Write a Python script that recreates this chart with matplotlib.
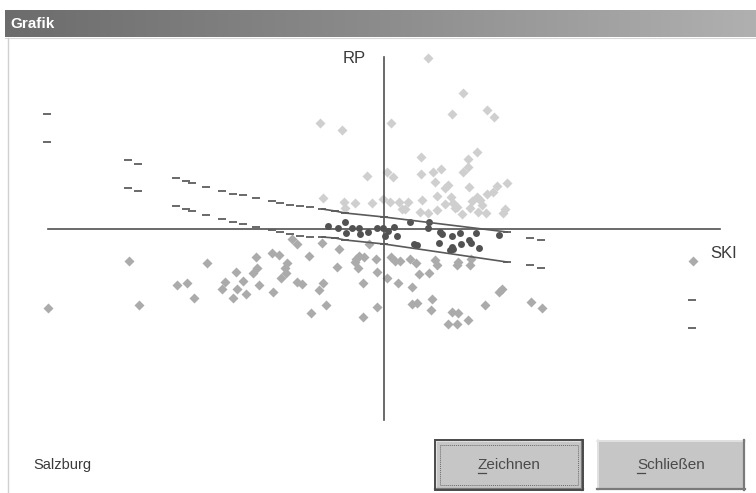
import matplotlib
matplotlib.use("Agg")
import matplotlib.pyplot as plt
from matplotlib.patches import Rectangle
import numpy as np

plt.rcParams['font.family'] = ['Liberation Sans', 'DejaVu Sans']

# ---------------- data (SKI on x, RP on y) ----------------
upper_x = [0.44, 0.79, 0.68, 1.03, 1.10, 0.07, -0.64, -0.42, 0.37, 0.93, 0.84, -0.17, 0.09, 0.03,
           0.37, 0.49, 0.57, 0.79, 0.84, 0.51, 0.64, 0.61, 0.85, 1.13, 1.23, 1.09, 1.03, 0.53,
           0.67, 0.93, 0.96, 0.88, -0.61, -0.40, -0.29, -0.12, -0.01, 0.06, 0.15, 0.24, 0.38,
           0.61, 0.69, 0.73, 0.18, 0.21, 0.36, 0.53, 0.71, 0.98, 1.02, 1.21, 1.19, 0.44, 0.78,
           0.86, 0.94, -0.39]
upper_y = [1.71, 1.36, 1.15, 1.19, 1.12, 1.06, 1.06, 0.99, 0.72, 0.77, 0.70, 0.53, 0.52, 0.57,
           0.55, 0.57, 0.60, 0.57, 0.62, 0.47, 0.44, 0.41, 0.42, 0.43, 0.46, 0.37, 0.35, 0.33,
           0.32, 0.32, 0.29, 0.28, 0.31, 0.27, 0.26, 0.26, 0.30, 0.27, 0.27, 0.27, 0.29,
           0.25, 0.26, 0.22, 0.20, 0.20, 0.17, 0.19, 0.21, 0.24, 0.16, 0.20, 0.16, 0.16, 0.15,
           0.21, 0.17, 0.21]

lower_x = [-3.36, -2.55, -2.45, -1.77, -2.07, -1.97, -1.90, -1.48, -1.59, -1.62, -1.47, -1.41,
           -1.38, -1.51, -1.31, -1.28, -1.27, -1.25, -1.12, -1.05, -1.11, -0.99, -0.97, -0.98,
           -1.03, -0.87, -0.82, -0.75, -0.92, -0.87, -0.73, -0.65, -0.62, -0.61, -0.58, -0.47,
           -0.45, -0.28, -0.26, -0.21, -0.20, -0.08, -0.07, -0.07, -0.21, -0.15, -0.25, -0.29,
           0.03, 0.07, 0.11, 0.16, 0.26, 0.32, 0.14, 0.28, 0.35, 0.45, 0.51, 0.53, 0.74, 0.73,
           0.86, 0.87, 0.28, 0.33, 0.48, 0.47, 0.68, 0.74, 0.64, 0.73, 0.84, 1.01, 1.15, 1.18,
           1.47, 1.58, 3.09]
lower_y = [-0.79, -0.32, -0.76, -0.34, -0.56, -0.54, -0.69, -0.43, -0.53, -0.60, -0.60, -0.52,
           -0.65, -0.69, -0.44, -0.28, -0.39, -0.56, -0.24, -0.26, -0.63, -0.39, -0.34, -0.44,
           -0.49, -0.53, -0.55, -0.27, -0.10, -0.15, -0.84, -0.61, -0.14, -0.54, -0.76, -0.38,
           -0.20, -0.30, -0.39, -0.54, -0.28, -0.30, -0.43, -0.78, -0.88, -0.15, -0.27, -0.33,
           -0.49, -0.28, -0.32, -0.32, -0.30, -0.34, -0.54, -0.58, -0.45, -0.44, -0.31, -0.36,
           -0.33, -0.36, -0.36, -0.30, -0.75, -0.74, -0.70, -0.81, -0.83, -0.84, -0.95, -0.95,
           -0.91, -0.76, -0.63, -0.60, -0.73, -0.79, -0.32]

dark_x = [-0.56, -0.46, -0.39, -0.38, -0.32, -0.25, -0.24, -0.16, -0.07, -0.01, 0.01, 0.04, 0.10,
          0.13, 0.26, 0.30, 0.33, 0.45, 0.44, 0.56, 0.58, 0.55, 0.68, 0.76, 0.77, 0.68, 0.66,
          0.85, 0.87, 0.92, 0.95, 1.15, 0.69]
dark_y = [0.03, 0.01, 0.07, -0.04, 0.01, 0.01, -0.05, -0.03, 0.01, 0.01, -0.07, -0.02, 0.02,
          -0.07, 0.07, -0.15, -0.16, 0.07, 0.01, -0.03, -0.05, -0.14, -0.07, -0.04, -0.15, -0.18,
          -0.21, -0.11, -0.14, -0.04, -0.19, -0.06, -0.20]

band_x = [-3.37, -2.56, -2.46, -2.08, -1.98, -1.92, -1.78, -1.62, -1.51, -1.41, -1.28, -1.12,
          -1.04, -0.94, -0.84, -0.74, -0.62, -0.49, -0.39, 0.00, 1.23, 1.46, 1.57, 3.08]
band_hi = [1.15, 0.69, 0.65, 0.51, 0.48, 0.46, 0.42, 0.38, 0.35, 0.34, 0.31, 0.28,
           0.26, 0.24, 0.23, 0.22, 0.20, 0.18, 0.16, 0.12, -0.03, -0.09, -0.11, -0.71]
band_lo = [0.87, 0.41, 0.38, 0.23, 0.20, 0.18, 0.14, 0.10, 0.07, 0.05, 0.02, -0.01,
           -0.03, -0.05, -0.07, -0.08, -0.08, -0.09, -0.11, -0.15, -0.33, -0.36, -0.39, -0.99]

x_label = "SKI"
y_label = "RP"
region = "Salzburg"
title = "Grafik"
btn_draw = "Zeichnen"
btn_close = "Schließen"

# ---------------- figure ----------------
W, H = 756, 493
fig = plt.figure(figsize=(W / 100, H / 100), dpi=100)
fig.patch.set_facecolor('white')

# chrome axes in pixel coordinates
cx = fig.add_axes([0, 0, 1, 1], zorder=0)
cx.set_xlim(0, W)
cx.set_ylim(H, 0)
cx.axis('off')

# title bar gradient
grad = np.linspace(0, 1, 256).reshape(1, -1)
cx.imshow(grad, extent=[5, W, 37, 10], cmap=matplotlib.colors.LinearSegmentedColormap.from_list(
    'tb', ['#6c6c6c', '#8c8c8c', '#b0b0b0']), aspect='auto', zorder=1)
cx.text(10, 24, title, color='white', fontsize=11, fontweight='bold', va='center', ha='left', zorder=2)
cx.plot([5, W], [38, 38], color='#d8d8d8', lw=0.8, zorder=2)
# left border of the window
cx.plot([8, 8], [38, H], color='#d0d0d0', lw=1.0, zorder=2)

# region label
cx.text(33, 465, region, fontsize=10.5, color='#3a3a3a', va='center', ha='left')

# buttons
def button(x0, x1, y0, y1, label, focus):
    cx.add_patch(Rectangle((x0, y0), x1 - x0, y1 - y0, facecolor='#c6c6c6', edgecolor='none', zorder=2))
    cx.plot([x0, x1], [y0 + 1, y0 + 1], color='#e6e6e6', lw=1.2, zorder=3)
    cx.plot([x0 + 1, x0 + 1], [y0, y1], color='#e6e6e6', lw=1.2, zorder=3)
    cx.plot([x0, x1], [y1 - 1, y1 - 1], color='#7a7a7a', lw=1.6, zorder=3)
    cx.plot([x1 - 1, x1 - 1], [y0, y1], color='#7a7a7a', lw=1.6, zorder=3)
    if focus:
        cx.add_patch(Rectangle((x0, y0), x1 - x0, y1 - y0, facecolor='none', edgecolor='#4a4a4a',
                               lw=1.4, zorder=4))
        cx.add_patch(Rectangle((x0 + 5, y0 + 5), x1 - x0 - 10, y1 - y0 - 10, facecolor='none',
                               edgecolor='#6a6a6a', lw=0.7, ls=(0, (1, 1)), zorder=4))
    xc = (x0 + x1) / 2
    return cx.text(xc, (y0 + y1) / 2, label, fontsize=11, color='#4a4a4a', ha='center', va='center', zorder=5)

t1 = button(435, 583, 440, 490, btn_draw, True)
t2 = button(597, 745, 440, 490, btn_close, False)
fig.canvas.draw()
for t in (t1, t2):
    bb = t.get_window_extent()
    x0 = bb.x0
    y = H - bb.y0 + 1
    cx.plot([x0, x0 + 8], [y, y], color='#4a4a4a', lw=0.9, zorder=5)

# plot axes in data coordinates
ax = fig.add_axes([0, 0, 1, 1], zorder=1)
ax.patch.set_alpha(0)
ax.set_xlim(-3.84, 3.72)
ax.set_ylim(-2.64, 2.29)
ax.axis('off')

# coordinate cross
ax.plot([-3.36, 3.36], [0, 0], color='#505050', lw=1.2, zorder=3)
ax.plot([0, 0], [-1.91, 1.72], color='#505050', lw=1.2, zorder=3)
ax.text(-0.30, 1.70, y_label, fontsize=12, color='#3a3a3a', ha='center', va='center')
ax.text(3.40, -0.25, x_label, fontsize=12, color='#3a3a3a', ha='center', va='center')

# scatter points
ax.plot(upper_x, upper_y, ls='none', marker='D', ms=4.6, color='#cfcfcf', mec='none', zorder=2)
ax.plot(lower_x, lower_y, ls='none', marker='D', ms=4.6, color='#ababab', mec='none', zorder=2)
ax.plot(dark_x, dark_y, ls='none', marker='o', ms=5.0, color='#525252', mec='none', zorder=4)

# bands: dash markers at each position, solid through the dense centre part
ax.plot(band_x, band_hi, ls='none', marker='_', ms=5.5, mew=1.3, color='#5e5e5e', zorder=4)
ax.plot(band_x, band_lo, ls='none', marker='_', ms=5.5, mew=1.3, color='#5e5e5e', zorder=4)
bx = np.array(band_x)
sel = (bx >= -0.62) & (bx <= 1.23)
ax.plot(bx[sel], np.array(band_hi)[sel], color='#5a5a5a', lw=1.2, zorder=4)
ax.plot(bx[sel], np.array(band_lo)[sel], color='#5a5a5a', lw=1.2, zorder=4)

fig.savefig('out.png', dpi=100)
